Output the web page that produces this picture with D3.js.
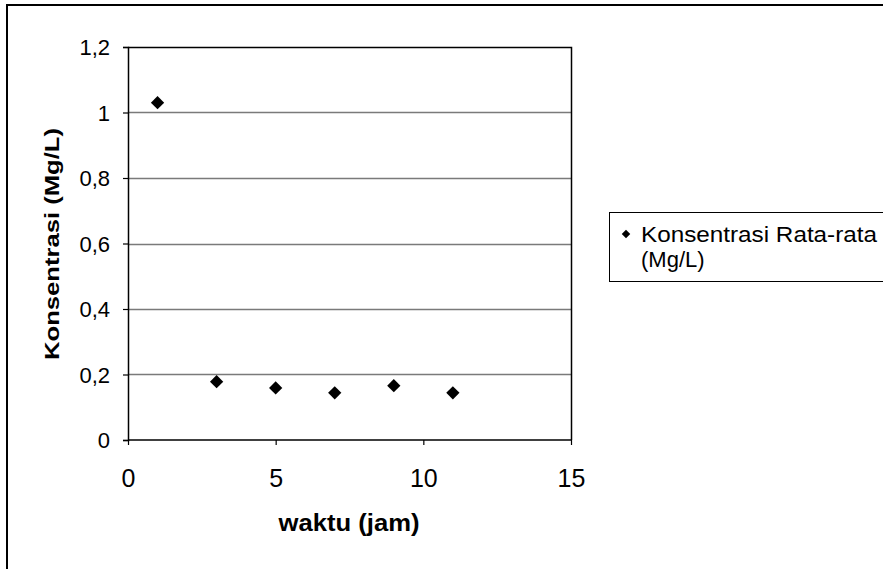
<!DOCTYPE html>
<html>
<head>
<meta charset="utf-8">
<script src="https://cdn.jsdelivr.net/npm/d3@7"></script>
<style>
  body { margin: 0; background: #fff; }
  text { font-family: Arial, "Liberation Sans", sans-serif; fill: #000; }
</style>
</head>
<body>
<script>
var w = 883;
var h = 569;

// data
var waktu = [1, 3, 5, 7, 9, 11];
var konsentrasi = [1.03, 0.178, 0.159, 0.144, 0.166, 0.144];
var xTicks = [0, 5, 10, 15];
var yTicks = [0, 0.2, 0.4, 0.6, 0.8, 1, 1.2];
var seriesName = ["Konsentrasi Rata-rata", "(Mg/L)"];

var plot = {left: 128, right: 571, top: 47, bottom: 440};

var svg = d3.select("body").append("svg")
            .attr("width", w)
            .attr("height", h);

// outer chart frame
svg.append("rect")
   .attr("x", 7).attr("y", 5)
   .attr("width", 900).attr("height", 600)
   .style("fill", "none").style("stroke", "#000").style("stroke-width", 2);

var x = d3.scaleLinear().domain([0, 15]).range([plot.left, plot.right]);
var y = d3.scaleLinear().domain([0, 1.2]).range([plot.bottom, plot.top]);

var fmt = function(d){ return String(d).replace(".", ","); };

// gridlines
svg.append("g").selectAll("line")
   .data(yTicks.slice(1, -1))
   .enter().append("line")
   .attr("x1", plot.left).attr("x2", plot.right)
   .attr("y1", function(d){ return Math.round(y(d)) + 0.5; })
   .attr("y2", function(d){ return Math.round(y(d)) + 0.5; })
   .style("stroke", "#7a7a7a").style("stroke-width", 1.3);

// plot box top and right
svg.append("path")
   .attr("d", "M" + plot.left + "," + (plot.top + 0.5) + "H" + (plot.right + 0.5) + "V" + plot.bottom)
   .style("fill", "none").style("stroke", "#000").style("stroke-width", 1.5);

// y axis
var yAxis = svg.append("g")
   .attr("transform", "translate(" + plot.left + ",0)")
   .call(d3.axisLeft(y).tickValues(yTicks).tickFormat(fmt).tickSize(5).tickPadding(13));

// x axis
var xAxis = svg.append("g")
   .attr("transform", "translate(0," + plot.bottom + ")")
   .call(d3.axisBottom(x).tickValues(xTicks).tickFormat(fmt).tickSize(5).tickPadding(24));

[yAxis, xAxis].forEach(function(a){
  a.select(".domain").style("stroke", "#000").style("stroke-width", 1.5);
  a.selectAll(".tick line").style("stroke", "#000").style("stroke-width", 1.2);
  a.selectAll(".tick text").style("fill", "#000")
   .style("font-family", "Arial, 'Liberation Sans', sans-serif");
});
yAxis.selectAll(".tick text").attr("dy", "0.36em").style("font-size", "22px");
xAxis.selectAll(".tick text").style("font-size", "25px");
xAxis.select(".domain").attr("d", "M" + plot.left + ",0H" + plot.right);

// data points
var diamond = d3.symbol().type(d3.symbolSquare).size(88);
svg.append("g").selectAll("path")
   .data(waktu)
   .enter().append("path")
   .attr("d", diamond)
   .attr("transform", function(d, i){
     return "translate(" + x(d) + "," + y(konsentrasi[i]) + ") rotate(45)";
   })
   .style("fill", "#000");

// axis titles
svg.append("text")
   .attr("x", 349).attr("y", 531)
   .attr("text-anchor", "middle")
   .attr("textLength", 141).attr("lengthAdjust", "spacingAndGlyphs")
   .style("font-size", "23px").style("font-weight", "bold")
   .text("waktu (jam)");

svg.append("text")
   .attr("transform", "translate(59,244) rotate(-90)")
   .attr("text-anchor", "middle")
   .attr("textLength", 232).attr("lengthAdjust", "spacingAndGlyphs")
   .style("font-size", "21px").style("font-weight", "bold")
   .text("Konsentrasi (Mg/L)");

// legend
var legend = svg.append("g");
legend.append("rect")
   .attr("x", 609.5).attr("y", 212.5)
   .attr("width", 300).attr("height", 69)
   .style("fill", "#fff").style("stroke", "#000").style("stroke-width", 1);
legend.append("path")
   .attr("d", d3.symbol().type(d3.symbolSquare).size(36))
   .attr("transform", "translate(626,234) rotate(45)")
   .style("fill", "#000");
legend.append("text")
   .attr("x", 641).attr("y", 242)
   .attr("textLength", 236).attr("lengthAdjust", "spacingAndGlyphs")
   .style("font-size", "22px")
   .text(seriesName[0]);
legend.append("text")
   .attr("x", 641).attr("y", 267)
   .style("font-size", "22px")
   .text(seriesName[1]);
</script>
</body>
</html>
